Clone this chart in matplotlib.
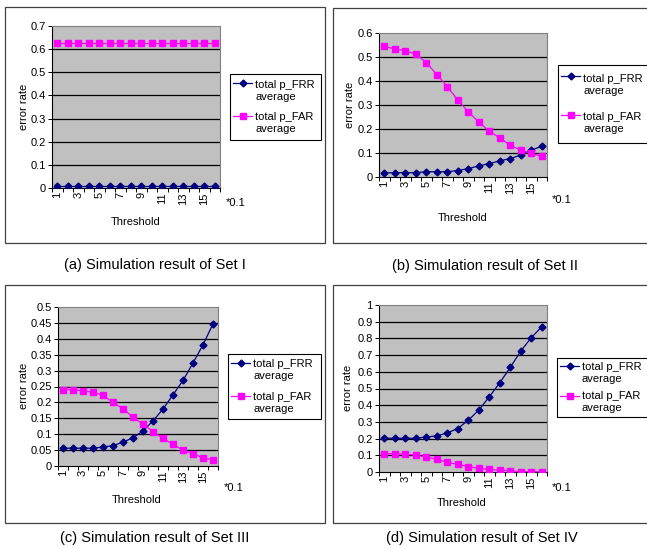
import matplotlib
matplotlib.use("Agg")
import matplotlib.pyplot as plt
from matplotlib.patches import Rectangle
from matplotlib.lines import Line2D

plt.rcParams['font.family'] = ['Liberation Sans', 'DejaVu Sans']

thresholds = list(range(1, 17))
xtick_labels = [str(v) for v in range(1, 17, 2)]

frr_a = [0.007] * 16
far_a = [0.625] * 16

frr_b = [0.017, 0.018, 0.018, 0.018, 0.022, 0.022, 0.022, 0.027,
         0.035, 0.046, 0.056, 0.067, 0.077, 0.091, 0.112, 0.128]
far_b = [0.544, 0.534, 0.526, 0.512, 0.477, 0.427, 0.377, 0.321,
         0.272, 0.229, 0.191, 0.163, 0.132, 0.112, 0.098, 0.086]

frr_c = [0.056, 0.056, 0.056, 0.056, 0.060, 0.064, 0.075, 0.089,
         0.110, 0.142, 0.179, 0.224, 0.269, 0.324, 0.381, 0.447]
far_c = [0.240, 0.240, 0.236, 0.232, 0.222, 0.200, 0.180, 0.153,
         0.132, 0.108, 0.087, 0.068, 0.050, 0.038, 0.026, 0.019]

frr_d = [0.202, 0.202, 0.202, 0.202, 0.210, 0.216, 0.234, 0.260,
         0.310, 0.370, 0.450, 0.534, 0.626, 0.724, 0.804, 0.870]
far_d = [0.110, 0.110, 0.108, 0.100, 0.090, 0.076, 0.058, 0.046,
         0.032, 0.022, 0.016, 0.010, 0.008, 0.002, 0.002, 0.001]

yticks_a = [0, 0.1, 0.2, 0.3, 0.4, 0.5, 0.6, 0.7]
yticks_b = [0, 0.1, 0.2, 0.3, 0.4, 0.5, 0.6]
yticks_c = [0, 0.05, 0.1, 0.15, 0.2, 0.25, 0.3, 0.35, 0.4, 0.45, 0.5]
yticks_d = [0, 0.1, 0.2, 0.3, 0.4, 0.5, 0.6, 0.7, 0.8, 0.9, 1]

captions = ["(a) Simulation result of Set I",
            "(b) Simulation result of Set II",
            "(c) Simulation result of Set III",
            "(d) Simulation result of Set IV"]
series_labels = ["total p_FRR\naverage", "total p_FAR\naverage"]

W, H = 647, 549
fig = plt.figure(figsize=(W / 100, H / 100), dpi=100)
fig.patch.set_facecolor('white')


def fx(x):
    return x / W


def fy(y):
    return 1 - y / H


FS = 8

panels = [
    dict(frame=(5, 7, 325, 243), ax=(52, 26, 220, 188), frr=frr_a, far=far_a, yt=yticks_a,
         ylab=(24, 107), xlab=(136, 222), mult=(236, 203), leg=(230, 74, 321, 140), cap=(155, 265)),
    dict(frame=(333, 8, 652, 243), ax=(379, 33, 547, 177), frr=frr_b, far=far_b, yt=yticks_b,
         ylab=(350, 105), xlab=(463, 218), mult=(562, 200), leg=(558, 65, 660, 143), cap=(485, 266)),
    dict(frame=(5, 285, 325, 523), ax=(58, 307, 218, 466), frr=frr_c, far=far_c, yt=yticks_c,
         ylab=(24, 386), xlab=(137, 500), mult=(234, 488), leg=(228, 354, 321, 419), cap=(155, 538)),
    dict(frame=(333, 285, 652, 523), ax=(379, 305, 547, 472), frr=frr_d, far=far_d, yt=yticks_d,
         ylab=(348, 388), xlab=(462, 503), mult=(562, 488), leg=(557, 358, 660, 417), cap=(482, 538)),
]

for i, p in enumerate(panels):
    x0, y0, x1, y1 = p['frame']
    fig.patches.append(Rectangle((fx(x0), fy(y1)), fx(x1 - x0), (y1 - y0) / H,
                                 transform=fig.transFigure, fill=False,
                                 edgecolor='#404040', linewidth=0.9, clip_on=False))
    ax0, ay0, ax1, ay1 = p['ax']
    ax = fig.add_axes([fx(ax0), fy(ay1), fx(ax1 - ax0), (ay1 - ay0) / H])
    ax.set_facecolor('#C0C0C0')
    yt = p['yt']
    ax.set_ylim(yt[0], yt[-1])
    ax.set_xlim(0.5, 16.5)
    ax.set_yticks(yt)
    ax.set_yticklabels(['0' if v == 0 else ('1' if v == 1 else f'{v:g}') for v in yt], fontsize=FS)
    for v in yt[1:-1]:
        ax.axhline(v, color='black', linewidth=0.9, zorder=1)
    ax.set_xticks(list(range(1, 17, 2)))
    ax.set_xticklabels(xtick_labels, rotation=90, fontsize=FS)
    ax.set_xticks([k + 0.5 for k in range(0, 17)], minor=True)
    ax.tick_params(axis='x', which='major', length=0, pad=3)
    ax.tick_params(axis='x', which='minor', length=3, width=0.7, direction='out')
    ax.tick_params(axis='y', length=3, width=0.7, pad=1.5)
    for s in ['top', 'right']:
        ax.spines[s].set_color('#808080')
        ax.spines[s].set_linewidth(0.8)
    for s in ['left', 'bottom']:
        ax.spines[s].set_color('black')
        ax.spines[s].set_linewidth(0.8)
    ax.plot(thresholds, p['frr'], color='#000080', marker='D', markersize=3.5,
            linewidth=0.9, zorder=3)
    ax.plot(thresholds, p['far'], color='#FF00FF', marker='s', markersize=4.2,
            linewidth=0.9, zorder=3)

    fig.text(fx(p['ylab'][0]), fy(p['ylab'][1]), 'error rate', rotation=90,
             ha='center', va='center', fontsize=FS)
    fig.text(fx(p['xlab'][0]), fy(p['xlab'][1]), 'Threshold', ha='center', va='center', fontsize=FS)
    fig.text(fx(p['mult'][0]), fy(p['mult'][1]), '*0.1', ha='center', va='center', fontsize=FS)
    fig.text(fx(p['cap'][0]), fy(p['cap'][1]), captions[i], ha='center', va='center', fontsize=10.5)

    lx0, ly0, lx1, ly1 = p['leg']
    fig.patches.append(Rectangle((fx(lx0), fy(ly1)), fx(lx1 - lx0), (ly1 - ly0) / H,
                                 transform=fig.transFigure, fill=False,
                                 edgecolor='black', linewidth=0.8, clip_on=False))
    rowh = (ly1 - ly0) / 2
    for j, (col, mk, ms) in enumerate([('#000080', 'D', 3.5), ('#FF00FF', 's', 4.2)]):
        yc = ly0 + rowh * j + rowh * 0.28
        fig.lines.append(Line2D([fx(lx0 + 3), fx(lx0 + 22)], [fy(yc), fy(yc)],
                                transform=fig.transFigure, color=col, linewidth=0.9))
        fig.lines.append(Line2D([fx(lx0 + 12.5)], [fy(yc)], transform=fig.transFigure,
                                color=col, marker=mk, markersize=ms))
        fig.text(fx(lx0 + 25), fy(ly0 + rowh * j + rowh * 0.5), series_labels[j],
                 ha='left', va='center', fontsize=FS, linespacing=1.25)

fig.savefig('out.png', dpi=100)
